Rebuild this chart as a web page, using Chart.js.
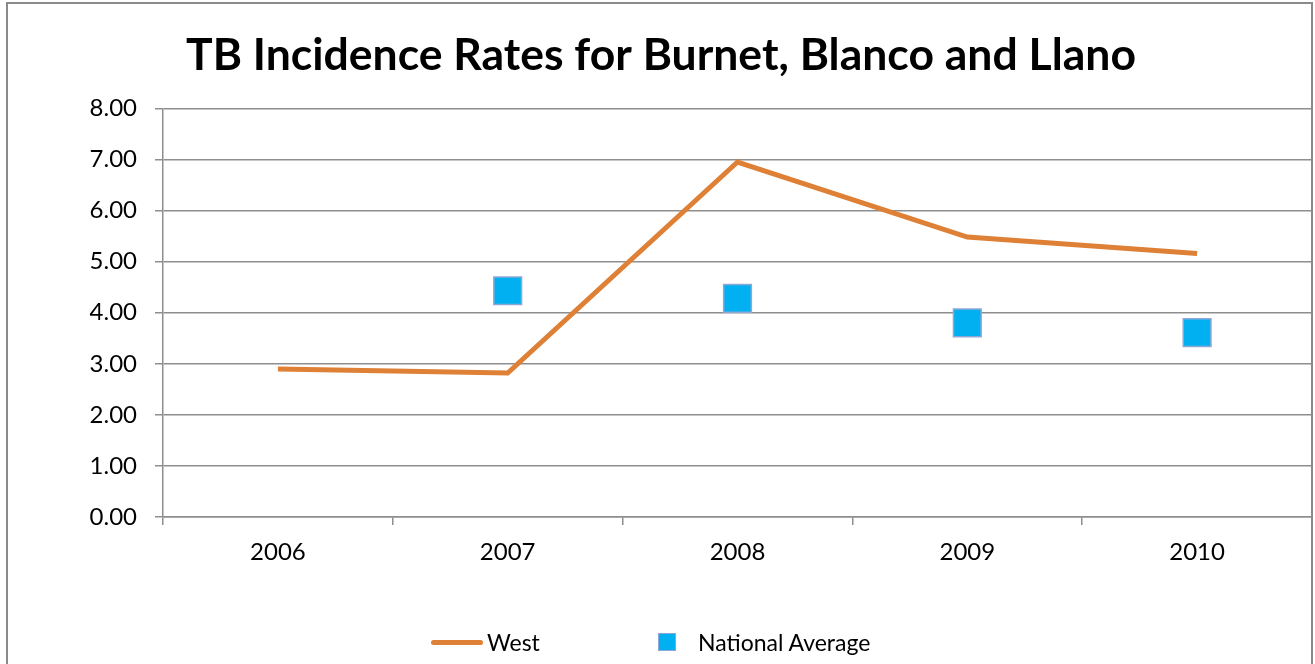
<!DOCTYPE html>
<html>
<head>
<meta charset="utf-8">
<title>TB Incidence Rates</title>
<script src="https://cdn.jsdelivr.net/npm/chart.js@4.4.0/dist/chart.umd.min.js"></script>
<style>
  html, body { margin: 0; padding: 0; background: #fff; overflow: hidden; }
  #wrap { width: 1315px; height: 664px; position: relative; }
  #legend { position: absolute; left: 0; top: 628px; width: 100%; height: 28px;
            font: 23px Lato, "Open Sans", sans-serif; color: #000; }
  #legend .item { position: absolute; top: 0; height: 28px; line-height: 28px; white-space: nowrap; }
  #legend .swatch { position: absolute; top: 50%; }
  #legend .text { position: absolute; top: 0; }
</style>
</head>
<body>
<div id="wrap">
  <canvas id="tbChart"></canvas>
  <div id="legend"></div>
</div>
<script>
const years = ['2006', '2007', '2008', '2009', '2010'];
const westRates = [2.90, 2.82, 6.95, 5.48, 5.16];
const nationalAvg = [null, 4.43, 4.28, 3.80, 3.61];

const lineColor = '#DE8137';
const squareFill = '#00B0F0';
const squareEdge = '#8EA8D6';
const gridColor = '#8E8E8E';
const fontName = 'Lato, "Open Sans", sans-serif';

// frame around the whole chart
const frame = {
  id: 'frame',
  afterDraw(chart) {
    const c = chart.ctx;
    c.save();
    c.strokeStyle = '#8A8A8A';
    c.lineWidth = 2;
    c.strokeRect(7, 3, 1305, 670);
    c.restore();
  }
};

const chart = new Chart(document.getElementById('tbChart'), {
  type: 'line',
  data: {
    labels: years,
    datasets: [{
      label: 'West',
      data: westRates,
      borderColor: lineColor,
      backgroundColor: lineColor,
      borderWidth: 5,
      pointRadius: 0,
      tension: 0
    }, {
      label: 'National Average',
      data: nationalAvg,
      showLine: false,
      pointStyle: 'rect',
      pointRadius: 19.6,
      pointBackgroundColor: squareFill,
      pointBorderColor: squareEdge,
      pointBorderWidth: 1.5,
      backgroundColor: squareFill,
      borderColor: squareEdge
    }]
  },
  options: {
    responsive: true,
    maintainAspectRatio: false,
    animation: false,
    layout: { autoPadding: false, padding: { left: 10, right: 3, top: 0, bottom: 97 } },
    plugins: {
      title: {
        display: true,
        text: 'TB Incidence Rates for Burnet, Blanco and Llano',
        color: '#000',
        font: { family: fontName, size: 44.5, weight: 'bold' },
        padding: { top: 29, bottom: 26 }
      },
      legend: { display: false },
      tooltip: { enabled: false }
    },
    scales: {
      x: {
        offset: true,
        grid: { offset: true, drawOnChartArea: false, drawTicks: true, tickLength: 8, color: gridColor, lineWidth: 1.5 },
        border: { color: gridColor, width: 1.5 },
        ticks: { color: '#000', padding: 13, font: { family: fontName, size: 24 } },
        afterFit(scale) {
          scale.height = 50;
          scale.paddingLeft = 0;
          scale.paddingRight = 0;
        }
      },
      y: {
        min: 0,
        max: 8,
        grid: { color: gridColor, lineWidth: 1.5, tickLength: 8 },
        border: { color: gridColor, width: 1.5 },
        ticks: {
          stepSize: 1,
          color: '#000',
          padding: 18,
          font: { family: fontName, size: 24 },
          callback: v => v.toFixed(2)
        },
        afterFit(scale) { scale.width = 153; }
      }
    }
  },
  plugins: [frame]
});

// legend below the plot, built from the datasets
const legendSlots = [
  { swatchLeft: 431, textLeft: 487 },
  { swatchLeft: 658, textLeft: 698 }
];
const legendBox = document.getElementById('legend');
chart.data.datasets.forEach((ds, i) => {
  const item = document.createElement('div');
  item.className = 'item';
  item.style.left = '0px';
  const sw = document.createElement('span');
  sw.className = 'swatch';
  sw.style.left = legendSlots[i].swatchLeft + 'px';
  if (ds.showLine === false) {
    sw.style.width = '18px'; sw.style.height = '18px'; sw.style.marginTop = '-9px';
    sw.style.boxSizing = 'border-box';
    sw.style.background = ds.pointBackgroundColor;
    sw.style.border = '1.5px solid ' + ds.pointBorderColor;
  } else {
    sw.style.width = '52px'; sw.style.height = '5px'; sw.style.marginTop = '-2px';
    sw.style.borderRadius = '3px';
    sw.style.background = ds.borderColor;
  }
  const tx = document.createElement('span');
  tx.className = 'text';
  tx.style.left = legendSlots[i].textLeft + 'px';
  tx.textContent = ds.label;
  item.appendChild(sw);
  item.appendChild(tx);
  legendBox.appendChild(item);
});
</script>
</body>
</html>
